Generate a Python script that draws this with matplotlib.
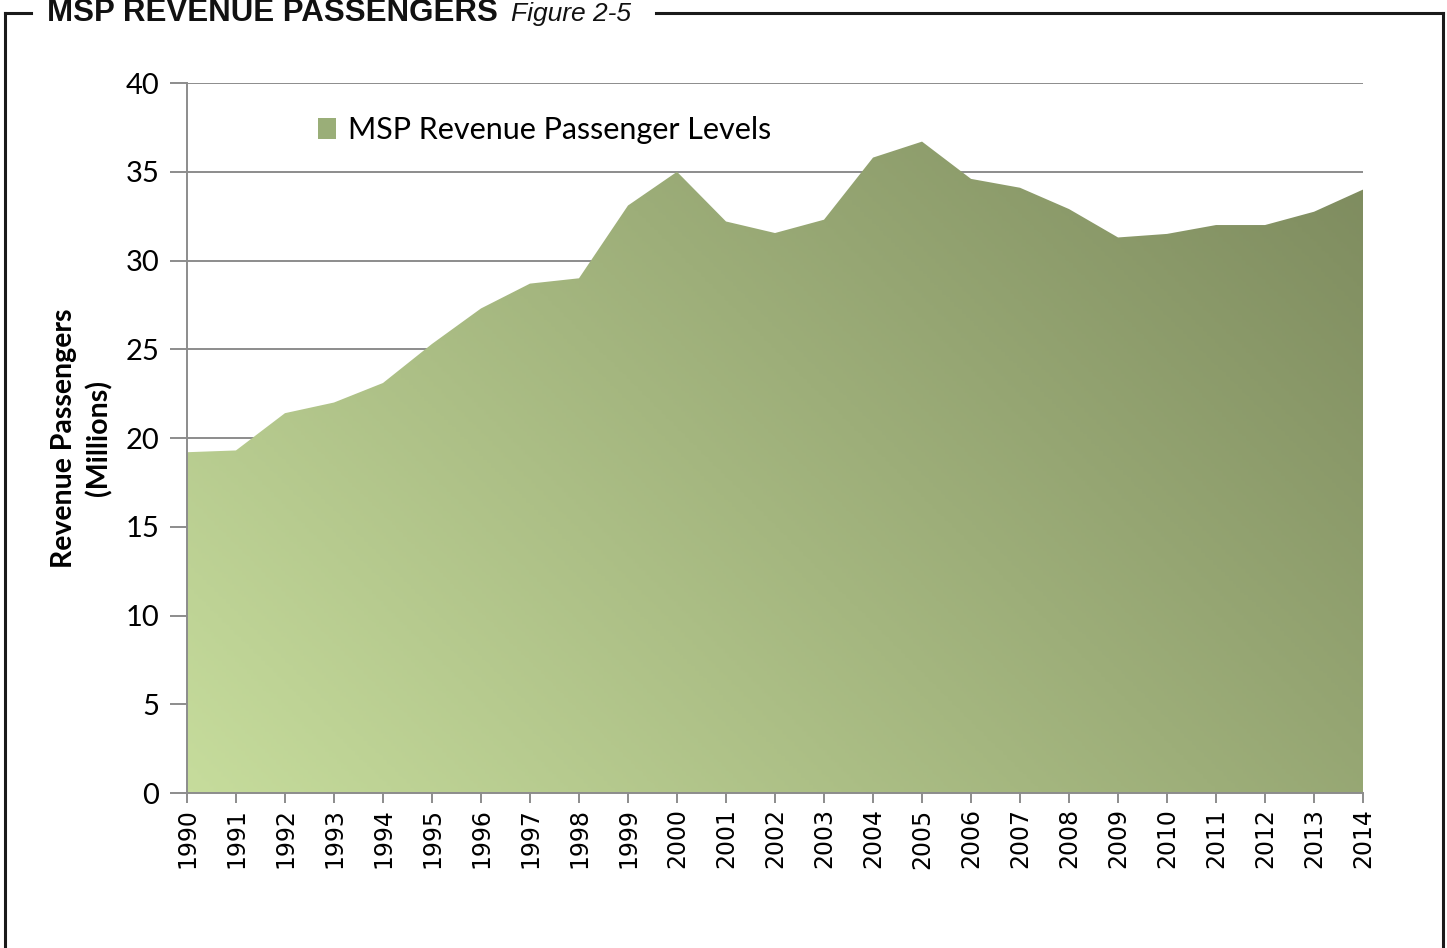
import numpy as np
import matplotlib.pyplot as plt
from matplotlib.colors import LinearSegmentedColormap
from matplotlib.lines import Line2D
from matplotlib.patches import Patch

# MSP revenue passengers (millions)
years = [1990, 1991, 1992, 1993, 1994, 1995, 1996, 1997, 1998, 1999, 2000, 2001,
         2002, 2003, 2004, 2005, 2006, 2007, 2008, 2009, 2010, 2011, 2012, 2013, 2014]
passengers = [19.2, 19.3, 21.4, 22.0, 23.1, 25.3, 27.3, 28.7, 29.0, 33.1, 35.0, 32.2,
              31.55, 32.3, 35.8, 36.7, 34.6, 34.1, 32.9, 31.3, 31.5, 32.0, 32.0, 32.75, 34.0]
yticks = [0, 5, 10, 15, 20, 25, 30, 35, 40]

fig = plt.figure(figsize=(14.47, 9.48), dpi=100)
ax = fig.add_axes([0.1292, 0.1635, 0.8128, 0.7489])

# gridlines sit behind the area
for v in yticks:
    ax.axhline(v, color="#8c8c8c", lw=1.4, zorder=1)

# area with a diagonal gradient (light lower-left -> dark upper-right)
poly = ax.fill_between(years, passengers, 0, color="none", lw=0, zorder=2)
cmap = LinearSegmentedColormap.from_list("msp", ["#c6dc9c", "#7b885c"])
gx, gy = np.meshgrid(np.linspace(0, 1, 300), np.linspace(0, 1, 300))
W, H = 1176, 710
z = (gx * W + gy * H) / (W + H)
img = ax.imshow(z, extent=[years[0], years[-1], 0, 40], origin="lower",
                aspect="auto", cmap=cmap, vmin=0, vmax=1, zorder=3)
img.set_clip_path(poly.get_paths()[0], transform=ax.transData)

ax.set_xlim(years[0], years[-1])
ax.set_ylim(0, 40)

ax.set_yticks(yticks)
ax.set_yticklabels([str(v) for v in yticks], fontsize=21, family="Lato")
ax.set_xticks(years)
ax.set_xticklabels([str(y) for y in years], rotation=90, fontsize=17,
                   family="DejaVu Sans")
ax.tick_params(axis="y", length=12, width=1.4, color="#8c8c8c", pad=8)
ax.tick_params(axis="x", length=7, width=1.4, color="#8c8c8c", pad=4)

for s in ["top", "right"]:
    ax.spines[s].set_visible(False)
for s in ["left", "bottom"]:
    ax.spines[s].set_color("#8c8c8c")
    ax.spines[s].set_linewidth(1.4)
    ax.spines[s].set_zorder(4)

ax.set_ylabel("Revenue Passengers\n(Millions)", fontsize=20.5, fontweight="bold",
              family="Lato", linespacing=1.4)
ax.yaxis.set_label_coords(-0.063, 0.5)

leg = ax.legend(handles=[Patch(facecolor="#9aae78", edgecolor="none",
                               label="MSP Revenue Passenger Levels")],
                loc="center left", bbox_to_anchor=(0.111, 0.934), frameon=False,
                prop={"family": "Lato", "size": 22},
                handlelength=0.6, handleheight=0.7, handletextpad=0.4,
                borderpad=0, borderaxespad=0)

# frame around the figure with the heading cut into the top line
lc = "#1a1a1a"
fig.add_artist(Line2D([5/1447, 5/1447], [0, 1 - 13/948], color=lc, lw=2.2))
fig.add_artist(Line2D([1443/1447, 1443/1447], [0, 1 - 13/948], color=lc, lw=2.2))
fig.add_artist(Line2D([5/1447, 31/1447], [1 - 13/948] * 2, color=lc, lw=2.2))
fig.add_artist(Line2D([656/1447, 1443/1447], [1 - 13/948] * 2, color=lc, lw=2.2))
fig.text(47/1447, 1 - 21/948, "MSP REVENUE PASSENGERS", fontsize=22.5,
         fontweight="bold", family="Liberation Sans", va="baseline", color="#111111")
fig.text(511/1447, 1 - 21/948, "Figure 2-5", fontsize=19, style="italic",
         family="Liberation Sans", va="baseline", color="#111111")

fig.savefig("out.png", dpi=100)
